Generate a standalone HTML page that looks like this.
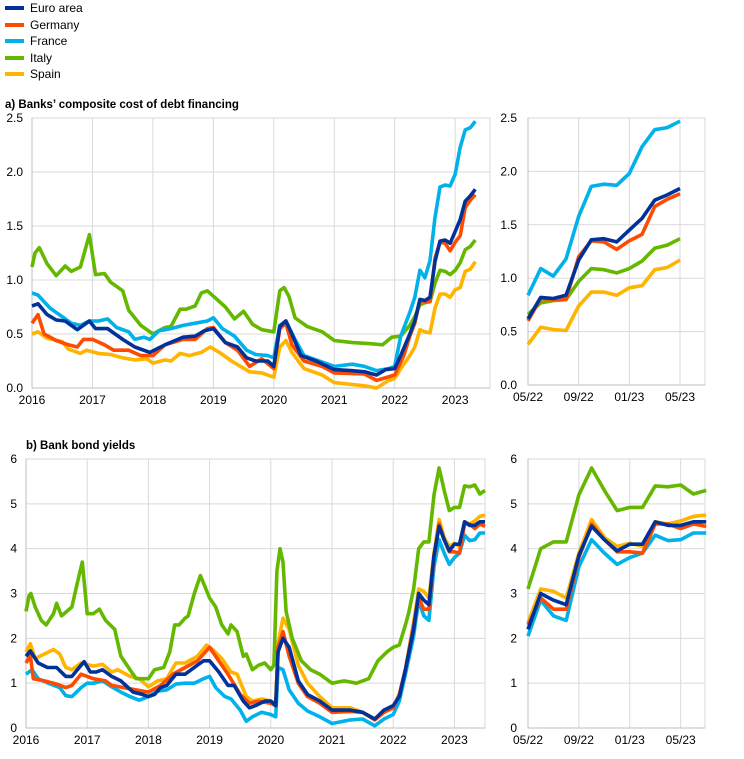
<!DOCTYPE html>
<html><head><meta charset="utf-8"><style>
body{margin:0;background:#fff;width:744px;height:754px;overflow:hidden;font-family:"Liberation Sans",sans-serif}
svg text{font-family:"Liberation Sans",sans-serif;font-size:12px;fill:#000}
</style></head><body>
<svg id="s" width="744" height="754" xmlns="http://www.w3.org/2000/svg">
<g font-size="12">
<rect x="5" y="6" width="19" height="4" fill="#003299"/><text x="30" y="12">Euro area</text>
<rect x="5" y="23" width="19" height="4" fill="#FF4B00"/><text x="30" y="29">Germany</text>
<rect x="5" y="39" width="19" height="4" fill="#00B1EA"/><text x="30" y="45">France</text>
<rect x="5" y="56" width="19" height="4" fill="#65B800"/><text x="30" y="62">Italy</text>
<rect x="5" y="72" width="19" height="4" fill="#FFB400"/><text x="30" y="78">Spain</text>
</g>
<text x="5" y="108" style="font-weight:bold;font-size:11.5px">a) Banks’ composite cost of debt financing</text>
<text x="26" y="449" style="font-weight:bold;font-size:11.5px">b) Bank bond yields</text>
</svg>
<script>
const S=document.getElementById('s'),NS='http://www.w3.org/2000/svg';
function el(t,a,txt){const e=document.createElementNS(NS,t);for(const k in a)e.setAttribute(k,a[k]);if(txt!==undefined)e.textContent=txt;S.appendChild(e);return e;}
const C={ea:'#003299',de:'#FF4B00',fr:'#00B1EA',it:'#65B800',es:'#FFB400'};
const order=['es','it','fr','de','ea'];
function months(start,arr){return arr.map((v,i)=>[start+i/12,v]);}
const M0=2022+4/12;
// panel a data
const A={
ea:[[2016,.76],[2016.1,.78],[2016.25,.68],[2016.4,.63],[2016.55,.62],[2016.75,.54],[2016.95,.62],[2017.05,.55],[2017.25,.55],[2017.5,.45],[2017.7,.38],[2017.95,.33],[2018.2,.40],[2018.5,.47],[2018.7,.48],[2018.85,.53],[2019,.55],[2019.2,.42],[2019.4,.38],[2019.55,.28],[2019.7,.25],[2019.9,.25],[2020,.2],[2020.1,.57],[2020.2,.62],[2020.3,.5],[2020.45,.3],[2020.7,.25],[2021,.17],[2021.3,.16],[2021.5,.15],[2021.7,.12],[2021.85,.17],[2022,.18],[2022.1,.3],[2022.25,.5]],
de:[[2016,.6],[2016.1,.68],[2016.2,.5],[2016.4,.44],[2016.6,.4],[2016.75,.38],[2016.85,.45],[2017,.45],[2017.2,.4],[2017.35,.35],[2017.6,.35],[2017.8,.3],[2018,.3],[2018.2,.4],[2018.5,.45],[2018.7,.45],[2018.9,.55],[2019,.56],[2019.2,.42],[2019.4,.35],[2019.6,.2],[2019.8,.27],[2020,.18],[2020.1,.55],[2020.2,.6],[2020.3,.4],[2020.5,.25],[2020.8,.2],[2021,.14],[2021.5,.13],[2021.7,.07],[2022,.12],[2022.15,.3],[2022.25,.48]],
fr:[[2016,.88],[2016.1,.86],[2016.3,.74],[2016.5,.66],[2016.65,.6],[2016.8,.58],[2016.95,.62],[2017.1,.62],[2017.25,.64],[2017.4,.56],[2017.6,.52],[2017.7,.45],[2017.85,.47],[2017.95,.45],[2018.1,.53],[2018.3,.55],[2018.5,.58],[2018.7,.6],[2018.9,.62],[2019,.65],[2019.15,.55],[2019.35,.48],[2019.55,.35],[2019.7,.31],[2019.9,.3],[2020,.28],[2020.1,.58],[2020.2,.62],[2020.35,.45],[2020.5,.3],[2020.8,.24],[2021,.2],[2021.3,.22],[2021.5,.2],[2021.7,.16],[2021.9,.18],[2022,.2],[2022.1,.48],[2022.25,.7]],
it:[[2016,1.12],[2016.05,1.25],[2016.12,1.3],[2016.25,1.15],[2016.4,1.04],[2016.55,1.13],[2016.65,1.08],[2016.8,1.12],[2016.95,1.42],[2017.05,1.05],[2017.2,1.06],[2017.3,.98],[2017.5,.9],[2017.6,.72],[2017.8,.58],[2018,.5],[2018.2,.56],[2018.3,.57],[2018.45,.73],[2018.55,.73],[2018.7,.76],[2018.8,.88],[2018.9,.9],[2019,.85],[2019.2,.75],[2019.35,.64],[2019.5,.71],[2019.65,.59],[2019.8,.54],[2020,.52],[2020.1,.9],[2020.17,.93],[2020.25,.85],[2020.35,.65],[2020.55,.57],[2020.8,.52],[2021,.44],[2021.3,.42],[2021.6,.41],[2021.8,.4],[2021.95,.47],[2022.1,.48],[2022.25,.58]],
es:[[2016,.5],[2016.1,.52],[2016.25,.46],[2016.5,.43],[2016.6,.36],[2016.8,.32],[2016.9,.35],[2017.1,.32],[2017.3,.31],[2017.5,.28],[2017.7,.26],[2017.9,.27],[2018,.23],[2018.2,.26],[2018.3,.25],[2018.45,.32],[2018.6,.3],[2018.8,.33],[2018.95,.38],[2019.1,.33],[2019.3,.25],[2019.45,.2],[2019.6,.15],[2019.8,.14],[2020,.1],[2020.1,.38],[2020.2,.44],[2020.3,.33],[2020.5,.18],[2020.8,.12],[2021,.05],[2021.5,.02],[2021.7,0],[2021.9,.07],[2022,.09],[2022.1,.18],[2022.25,.3]]};
const AR={ea:[.62,.82,.81,.84,1.17,1.36,1.37,1.34,1.45,1.56,1.73,1.78,1.84],
de:[.60,.81,.80,.80,1.2,1.35,1.34,1.27,1.35,1.41,1.67,1.74,1.79],
fr:[.84,1.09,1.02,1.18,1.58,1.86,1.88,1.87,1.98,2.23,2.39,2.41,2.47],
it:[.66,.77,.79,.80,.97,1.09,1.08,1.05,1.09,1.16,1.28,1.31,1.37],
es:[.38,.54,.52,.51,.74,.87,.87,.84,.91,.93,1.08,1.10,1.17]};
const B={
ea:[[2016,1.6],[2016.07,1.72],[2016.2,1.45],[2016.35,1.35],[2016.5,1.35],[2016.65,1.15],[2016.75,1.15],[2016.9,1.4],[2016.95,1.48],[2017.05,1.25],[2017.15,1.25],[2017.25,1.3],[2017.4,1.15],[2017.55,1.05],[2017.75,.8],[2017.9,.75],[2018,.7],[2018.1,.75],[2018.2,.9],[2018.3,.95],[2018.45,1.2],[2018.6,1.2],[2018.8,1.4],[2018.9,1.5],[2019,1.5],[2019.15,1.25],[2019.3,.95],[2019.4,.95],[2019.55,.6],[2019.65,.45],[2019.75,.5],[2019.9,.6],[2020,.6],[2020.08,.5],[2020.12,1.7],[2020.2,2.0],[2020.3,1.8],[2020.45,1.05],[2020.6,.75],[2020.8,.6],[2021,.4],[2021.3,.4],[2021.5,.35],[2021.7,.2],[2021.85,.4],[2022,.5],[2022.1,.7],[2022.2,1.3]],
de:[[2016,1.45],[2016.07,1.62],[2016.12,1.1],[2016.3,1.05],[2016.5,.98],[2016.65,.9],[2016.75,.95],[2016.9,1.2],[2017.1,1.1],[2017.3,1.05],[2017.4,.95],[2017.6,.9],[2017.8,.85],[2018,.8],[2018.2,.95],[2018.4,1.2],[2018.6,1.35],[2018.8,1.5],[2019,1.8],[2019.15,1.5],[2019.3,1.2],[2019.5,.75],[2019.65,.55],[2019.8,.6],[2020,.55],[2020.08,.5],[2020.12,1.8],[2020.2,2.15],[2020.3,1.6],[2020.45,1.0],[2020.6,.7],[2020.8,.55],[2021,.35],[2021.3,.37],[2021.5,.35],[2021.7,.18],[2021.85,.35],[2022,.45],[2022.1,.75],[2022.2,1.3]],
fr:[[2016,1.2],[2016.1,1.3],[2016.2,1.1],[2016.4,.98],[2016.55,.9],[2016.65,.72],[2016.75,.7],[2016.9,.9],[2017,1.0],[2017.1,1.0],[2017.25,1.05],[2017.4,.92],[2017.55,.8],[2017.7,.7],[2017.85,.62],[2018,.7],[2018.15,.82],[2018.3,.85],[2018.45,.98],[2018.6,1.0],[2018.75,1.0],[2018.9,1.1],[2019,1.15],[2019.1,.9],[2019.25,.7],[2019.35,.65],[2019.5,.4],[2019.6,.15],[2019.7,.25],[2019.85,.35],[2020,.3],[2020.08,.25],[2020.12,1.35],[2020.2,1.3],[2020.3,.85],[2020.45,.55],[2020.6,.38],[2020.8,.25],[2021,.1],[2021.3,.18],[2021.5,.2],[2021.7,.05],[2021.85,.2],[2022,.3],[2022.1,.6],[2022.2,1.2]],
it:[[2016,2.6],[2016.05,2.95],[2016.08,3.0],[2016.15,2.7],[2016.25,2.4],[2016.33,2.3],[2016.45,2.55],[2016.5,2.78],[2016.58,2.5],[2016.75,2.7],[2016.85,3.3],[2016.92,3.7],[2017,2.55],[2017.1,2.55],[2017.2,2.65],[2017.3,2.4],[2017.45,2.2],[2017.55,1.6],[2017.7,1.3],[2017.8,1.1],[2018,1.1],[2018.1,1.3],[2018.25,1.35],[2018.35,1.7],[2018.43,2.3],[2018.5,2.3],[2018.6,2.45],[2018.65,2.5],[2018.75,3.0],[2018.85,3.4],[2019,2.9],[2019.1,2.7],[2019.2,2.3],[2019.3,2.1],[2019.35,2.3],[2019.45,2.15],[2019.55,1.6],[2019.6,1.65],[2019.7,1.3],[2019.8,1.4],[2019.9,1.45],[2020,1.3],[2020.05,1.4],[2020.1,3.5],[2020.15,4.0],[2020.2,3.7],[2020.25,2.6],[2020.35,2.0],[2020.5,1.5],[2020.65,1.3],[2020.8,1.2],[2021,1.0],[2021.2,1.05],[2021.4,1.0],[2021.6,1.1],[2021.75,1.5],[2021.9,1.7],[2022,1.8],[2022.1,1.85],[2022.2,2.3],[2022.25,2.55]],
es:[[2016,1.7],[2016.07,1.88],[2016.15,1.55],[2016.3,1.65],[2016.45,1.75],[2016.55,1.65],[2016.65,1.35],[2016.75,1.3],[2016.9,1.45],[2017.1,1.38],[2017.25,1.42],[2017.4,1.25],[2017.5,1.3],[2017.7,1.15],[2017.85,1.1],[2018,.92],[2018.15,1.05],[2018.3,1.1],[2018.45,1.45],[2018.6,1.45],[2018.8,1.6],[2018.95,1.85],[2019.05,1.75],[2019.2,1.55],[2019.35,1.25],[2019.45,1.2],[2019.6,.7],[2019.7,.6],[2019.85,.65],[2020,.6],[2020.08,.55],[2020.12,1.9],[2020.2,2.45],[2020.3,2.2],[2020.45,1.4],[2020.6,1.0],[2020.8,.7],[2021,.45],[2021.3,.45],[2021.5,.35],[2021.7,.18],[2021.85,.35],[2022,.45],[2022.1,.75],[2022.2,1.3]]};
const BR={ea:[2.2,3.0,2.85,2.75,3.85,4.5,4.2,3.95,4.1,4.1,4.6,4.52,4.52,4.6,4.6],
de:[2.3,2.9,2.65,2.65,3.8,4.55,4.2,3.93,3.93,3.9,4.55,4.55,4.45,4.55,4.5],
fr:[2.05,2.85,2.5,2.4,3.6,4.2,3.9,3.65,3.8,3.9,4.3,4.18,4.2,4.35,4.35],
it:[3.1,4.0,4.15,4.15,5.2,5.8,5.3,4.85,4.92,4.92,5.4,5.38,5.42,5.22,5.3],
es:[2.35,3.1,3.05,2.9,3.9,4.65,4.25,4.05,4.12,4.05,4.6,4.55,4.62,4.72,4.75]};
function panel(o){
 const {x0,x1,y0,y1,vmax,ticks,fmt,xt,xlab,xf,series,lx}=o;
 const X=v=>o.px0+(v-o.t0)*o.pxPer, Y=v=>y1-(v/vmax)*(y1-y0);
 ticks.forEach(t=>{el('line',{x1:x0,x2:x1,y1:Y(t),y2:Y(t),stroke:'#d9d9d9','stroke-width':1});
   el('text',{x:lx,y:Y(t)+4,'text-anchor':'end'},fmt(t));});
 xt.forEach((t,i)=>{const xx=X(t);el('line',{x1:xx,x2:xx,y1:y0,y2:y1,stroke:'#d9d9d9','stroke-width':1});
   el('text',{x:xx,y:y1+16,'text-anchor':'middle'},xlab[i]);});
 el('rect',{x:x0,y:y0,width:x1-x0,height:y1-y0,fill:'none',stroke:'#d9d9d9','stroke-width':1});
 el('line',{x1:x0,x2:x0,y1:y0,y2:y1,stroke:'#bfbfbf'});el('line',{x1:x0,x2:x1,y1:y1,y2:y1,stroke:'#bfbfbf'});
 order.forEach(k=>{el('polyline',{points:series[k].map(p=>X(p[0]).toFixed(1)+','+Y(p[1]).toFixed(1)).join(' '),fill:'none',stroke:C[k],'stroke-width':3.6,'stroke-linejoin':'round'});});
}
const yrs=[2016,2017,2018,2019,2020,2021,2022,2023];
const mrk=[M0,M0+4/12,M0+8/12,M0+12/12], mlab=['05/22','09/22','01/23','05/23'];
const comb=(L,R)=>{const o={};order.forEach(k=>o[k]=L[k].concat(months(M0,R[k])));return o;};
const right=R=>{const o={};order.forEach(k=>o[k]=months(M0,R[k]));return o;};
panel({x0:32,x1:490,y0:118,y1:388,vmax:2.5,ticks:[0,.5,1,1.5,2,2.5],fmt:t=>t.toFixed(1),xt:yrs,xlab:yrs.map(String),px0:32,t0:2016,pxPer:60.45,series:comb(A,AR),lx:23});
panel({x0:528,x1:705,y0:118,y1:385,vmax:2.5,ticks:[0,.5,1,1.5,2,2.5],fmt:t=>t.toFixed(1),xt:mrk,xlab:mlab,px0:528,t0:M0,pxPer:152,series:right(AR),lx:517});
panel({x0:26,x1:485,y0:459,y1:728,vmax:6,ticks:[0,1,2,3,4,5,6],fmt:t=>String(t),xt:yrs,xlab:yrs.map(String),px0:26,t0:2016,pxPer:61.2,series:comb(B,BR),lx:17});
panel({x0:528,x1:705,y0:459,y1:728,vmax:6,ticks:[0,1,2,3,4,5,6],fmt:t=>String(t),xt:mrk,xlab:mlab,px0:528,t0:M0,pxPer:152.7,series:right(BR),lx:517});
</script>
</body></html>
